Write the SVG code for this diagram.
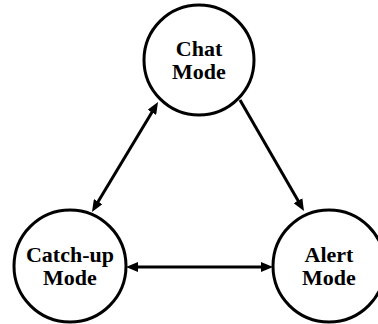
<svg xmlns="http://www.w3.org/2000/svg" width="378" height="324" viewBox="0 0 378 324">
  <style>
    .node circle { fill: #ffffff; stroke: #000000; stroke-width: 3; }
    .node text { font-family: "Liberation Serif", "Times New Roman", serif; font-weight: bold; font-size: 22px; text-anchor: middle; fill: #000000; }
    .edge { stroke: #000000; stroke-width: 3; fill: none; }
  </style>
  <defs>
    <!-- filled arrowhead; tip sits 8px beyond the line end -->
    <marker id="arrow" viewBox="0 0 12 10" refX="4" refY="5" markerWidth="12" markerHeight="10" markerUnits="userSpaceOnUse" orient="auto-start-reverse">
      <path d="M0,0 L12,5 L0,10 z" fill="#000000"/>
    </marker>
  </defs>

  <rect width="378" height="324" fill="#ffffff"/>

  <!-- connectors -->
  <g id="connectors">
    <line class="edge" x1="153.9" y1="108.9" x2="96.1" y2="205.1" marker-start="url(#arrow)" marker-end="url(#arrow)"/>
    <line class="edge" x1="240" y1="100" x2="300" y2="204.1" marker-end="url(#arrow)"/>
    <line class="edge" x1="134" y1="267" x2="265" y2="267" marker-start="url(#arrow)" marker-end="url(#arrow)"/>
  </g>

  <!-- nodes -->
  <g id="chat" class="node">
    <circle cx="199" cy="60" r="55"/>
    <text x="199" y="56">Chat</text>
    <text x="199" y="79">Mode</text>
  </g>
  <g id="catchup" class="node">
    <circle cx="70" cy="266" r="56"/>
    <text x="70" y="262">Catch-up</text>
    <text x="70" y="285">Mode</text>
  </g>
  <g id="alert" class="node">
    <circle cx="329" cy="266" r="56"/>
    <text x="329" y="262">Alert</text>
    <text x="329" y="285">Mode</text>
  </g>
</svg>
